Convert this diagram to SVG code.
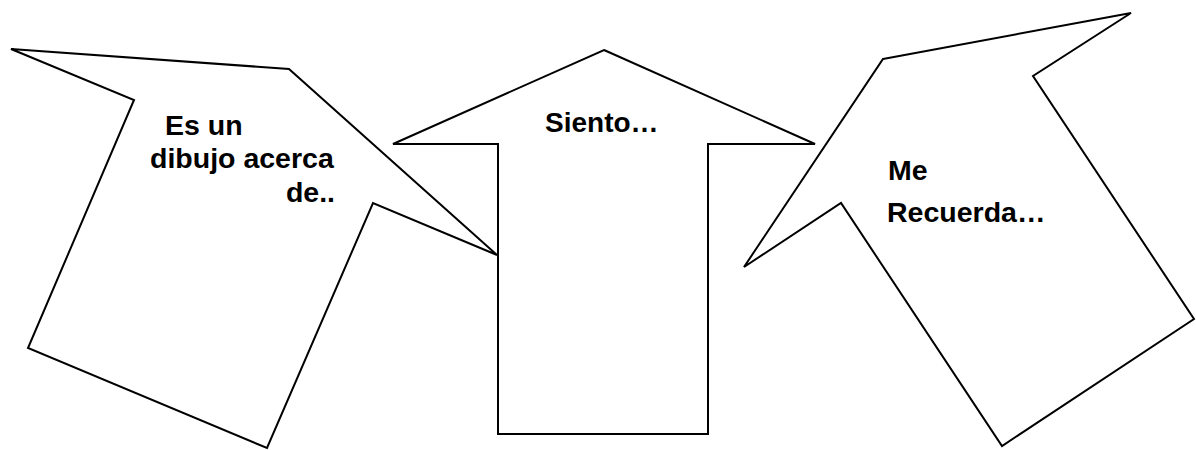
<svg xmlns="http://www.w3.org/2000/svg" width="1196" height="450" viewBox="0 0 1196 450">
<style>
.shape{fill:#fff;stroke:#000;stroke-width:2;stroke-linejoin:miter}
.lbl{font-family:"Liberation Sans",Arial,sans-serif;font-weight:bold;font-size:28.5px;fill:#000}
</style>
<rect width="1196" height="450" fill="#fff"/>
<g id="node-left">
<polygon class="shape" points="11,49 289,69 497,255 373,203 267,448 28,348 134,100"/>
<text class="lbl" x="165" y="135">Es un</text>
<text class="lbl" x="150" y="168">dibujo acerca</text>
<text class="lbl" x="335" y="202" text-anchor="end">de..</text>
</g>
<g id="node-middle">
<polygon class="shape" points="604,50 815,144 708,144 708,434 498,434 498,144 393,144"/>
<text class="lbl" x="545" y="132" style="font-size:28px">Siento…</text>
</g>
<g id="node-right">
<polygon class="shape" points="883,59 1131,13 1033,76 1194,319 1002,446 841,203 744,267"/>
<text class="lbl" x="888" y="180">Me</text>
<text class="lbl" x="887" y="222">Recuerda…</text>
</g>
<g id="connectors"></g>
</svg>
